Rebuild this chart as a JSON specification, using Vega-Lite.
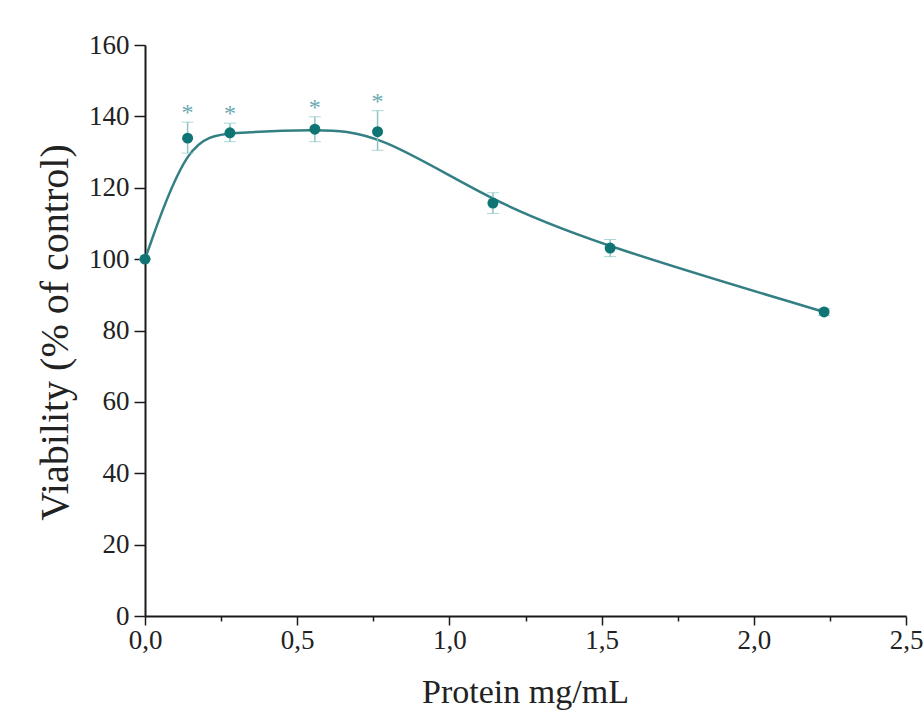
{
  "$schema": "https://vega.github.io/schema/vega-lite/v6.json",
  "width": 761,
  "height": 571,
  "autosize": "none",
  "padding": {"left": 145, "top": 45, "right": 17, "bottom": 96},
  "background": "white",
  "config": {"view": {"stroke": null}},
  "data": {
    "values": [
      {"conc": 0.0, "viability": 100.0, "lo": 100.0, "hi": 100.0, "sig": ""},
      {"conc": 0.14, "viability": 133.9, "lo": 129.7, "hi": 138.4, "sig": "*"},
      {"conc": 0.279, "viability": 135.4, "lo": 132.9, "hi": 138.1, "sig": "*"},
      {"conc": 0.558, "viability": 136.4, "lo": 132.9, "hi": 139.9, "sig": "*"},
      {"conc": 0.764, "viability": 135.7, "lo": 130.5, "hi": 141.6, "sig": "*"},
      {"conc": 1.143, "viability": 115.7, "lo": 112.8, "hi": 118.6, "sig": ""},
      {"conc": 1.528, "viability": 103.1, "lo": 100.7, "hi": 105.5, "sig": ""},
      {"conc": 2.231, "viability": 85.2, "lo": 84.2, "hi": 86.2, "sig": ""}
    ]
  },
  "encoding": {
    "x": {
      "field": "conc",
      "type": "quantitative",
      "scale": {"domain": [0, 2.5], "nice": false, "zero": false},
      "axis": {
        "title": "Protein mg/mL",
        "values": [0, 0.25, 0.5, 0.75, 1, 1.25, 1.5, 1.75, 2, 2.25, 2.5],
        "labelExpr": "(round(datum.value * 100) % 50 === 0) ? replace(format(datum.value, '.1f'), '.', ',') : ''",
        "grid": false,
        "domainColor": "#1a1a1a",
        "domainWidth": 2,
        "tickColor": "#1a1a1a",
        "tickWidth": 1.5,
        "tickSize": {"condition": {"test": "round(datum.value * 100) % 50 === 0", "value": 9}, "value": 5},
        "labelFont": "Liberation Serif",
        "labelFontSize": 27,
        "labelColor": "#222222",
        "labelPadding": 2,
        "labelFlush": false,
        "labelOverlap": false,
        "titleFont": "Liberation Serif",
        "titleFontSize": 34,
        "titleFontWeight": "normal",
        "titleColor": "#222222",
        "titleX": 380,
        "titleY": 86,
        "titleAlign": "center",
        "titleBaseline": "alphabetic"
      }
    }
  },
  "layer": [
    {
      "mark": {"type": "line", "interpolate": "basis", "color": "#337f84", "strokeWidth": 2.5},
      "encoding": {
        "y": {
          "field": "viability",
          "type": "quantitative",
          "title": "Viability (% of control)",
          "scale": {"domain": [0, 160], "nice": false},
          "axis": {
            "title": "Viability (% of control)",
            "values": [0, 10, 20, 30, 40, 50, 60, 70, 80, 90, 100, 110, 120, 130, 140, 150, 160],
            "labelExpr": "(datum.value % 20 === 0) ? datum.label : ''",
            "grid": false,
            "domainColor": "#1a1a1a",
            "domainWidth": 2,
            "tickColor": "#1a1a1a",
            "tickWidth": 1.5,
            "tickSize": {"condition": {"test": "datum.value % 20 === 0", "value": 11}, "value": 6},
            "labelFont": "Liberation Serif",
            "labelFontSize": 27,
            "labelColor": "#222222",
            "labelPadding": 5,
            "labelFlush": false,
            "labelOverlap": false,
            "titleFont": "Liberation Serif",
            "titleFontSize": 40,
            "titleFontWeight": "normal",
            "titleColor": "#222222",
            "titleAngle": -90,
            "titleX": -90,
            "titleY": 287,
            "titleAlign": "center",
            "titleBaseline": "middle"
          }
        }
      }
    },
    {
      "mark": {"type": "errorbar", "ticks": {"size": 12, "color": "#8cc4c6", "strokeWidth": 1.5}, "rule": {"color": "#8cc4c6", "strokeWidth": 1.5}},
      "encoding": {
        "y": {"field": "lo", "type": "quantitative", "title": "Viability (% of control)"},
        "y2": {"field": "hi"}
      }
    },
    {
      "mark": {"type": "point", "filled": true, "size": 120, "color": "#0f7474", "opacity": 1},
      "encoding": {
        "y": {"field": "viability", "type": "quantitative", "title": "Viability (% of control)"}
      }
    },
    {
      "transform": [{"filter": "datum.sig !== ''"}],
      "mark": {"type": "text", "font": "Liberation Serif", "fontSize": 24, "color": "#6aa8ae", "baseline": "alphabetic", "dy": 12},
      "encoding": {
        "y": {"field": "hi", "type": "quantitative", "title": "Viability (% of control)"},
        "text": {"field": "sig"},
        "yOffset": {"value": -14}
      }
    }
  ]
}
